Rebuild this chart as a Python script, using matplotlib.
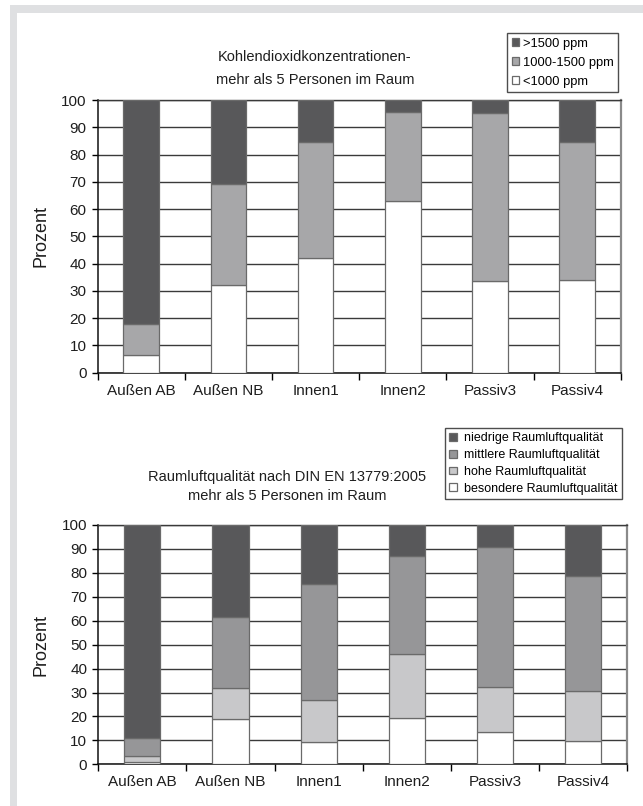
import matplotlib
matplotlib.use("Agg")
import matplotlib.pyplot as plt
import matplotlib.patches as patches
import numpy as np

plt.rcParams['font.family'] = ['Liberation Sans', 'DejaVu Sans']

categories = ["Außen AB", "Außen NB", "Innen1", "Innen2", "Passiv3", "Passiv4"]

# top chart: CO2 concentration shares (percent)
co2_low = [6.5, 32.2, 41.9, 63.0, 33.6, 34.0]
co2_mid = [11.4, 36.9, 42.8, 32.7, 61.5, 50.5]
co2_high = [82.1, 30.9, 15.3, 4.3, 4.9, 15.5]
co2_labels = ["<1000 ppm", "1000-1500 ppm", ">1500 ppm"]

# bottom chart: indoor air quality classes (percent)
iaq_special = [1.1, 18.8, 9.2, 19.2, 13.6, 9.7]
iaq_high = [2.4, 13.0, 17.7, 26.8, 18.7, 20.9]
iaq_mid = [7.4, 29.9, 48.3, 41.2, 58.7, 48.0]
iaq_low = [89.1, 38.3, 24.8, 12.8, 9.0, 21.4]
iaq_labels = ["besondere Raumluftqualität", "hohe Raumluftqualität",
              "mittlere Raumluftqualität", "niedrige Raumluftqualität"]

STYLE = {
    'text': '#1e1e1e',
    'grid': '#3a3a3a',
    'edge': '#6a6a6a',
    'frame': '#dfe0e2',
}

W, H = 643, 806
fig = plt.figure(figsize=(W / 100, H / 100), dpi=100)
fig.patch.set_facecolor('white')

# light gray frame at top and left
fig.add_artist(patches.Rectangle((10 / W, 0), 7 / W, 1 - 5 / H, transform=fig.transFigure,
                                 facecolor=STYLE['frame'], edgecolor='none'))
fig.add_artist(patches.Rectangle((10 / W, 1 - 13 / H), 1, 8 / H, transform=fig.transFigure,
                                 facecolor=STYLE['frame'], edgecolor='none'))


def px_axes(l, t, r, b):
    return fig.add_axes([l / W, 1 - b / H, (r - l) / W, (b - t) / H])


def style_axes(ax):
    x = np.arange(len(categories))
    ax.set_xlim(-0.5, len(categories) - 0.5)
    ax.set_ylim(0, 100)
    ax.set_yticks(np.arange(0, 101, 10))
    ax.yaxis.grid(True, color=STYLE['grid'], lw=1.0, zorder=0)
    ax.set_axisbelow(True)
    ax.set_xticks(np.arange(-0.5, len(categories), 1))
    ax.set_xticklabels([])
    ax.set_xticks(x, minor=True)
    ax.set_xticklabels(categories, minor=True)
    ax.tick_params(axis='x', which='major', length=5, width=1, direction='out')
    ax.tick_params(axis='x', which='minor', length=0, pad=8, labelsize=11,
                   labelcolor=STYLE['text'])
    ax.tick_params(axis='y', length=4, width=1, pad=4, labelsize=11,
                   labelcolor=STYLE['text'])
    for s in ['left', 'bottom']:
        ax.spines[s].set_color('#111111')
        ax.spines[s].set_linewidth(1.1)
    ax.spines['right'].set_color('#8a8a8a')
    ax.spines['right'].set_linewidth(1.6)
    ax.spines['top'].set_color(STYLE['grid'])
    ax.spines['top'].set_linewidth(1.0)


def stacked(ax, series, colors, labels):
    x = np.arange(len(categories))
    bottom = np.zeros(len(categories))
    handles = []
    for vals, c, lab in zip(series, colors, labels):
        h = ax.bar(x, vals, 0.41, bottom=bottom, color=c, edgecolor=STYLE['edge'],
                   linewidth=0.9, label=lab, zorder=3)
        handles.append(h)
        bottom = bottom + np.array(vals)
    return handles


# --- top chart ---
ax1 = px_axes(97.7, 100, 620.7, 372.7)
style_axes(ax1)
h1 = stacked(ax1, [co2_low, co2_mid, co2_high], ['#ffffff', '#a7a7a9', '#58585a'], co2_labels)
fig.text(315 / W, 1 - 57 / H, "Kohlendioxidkonzentrationen-", ha='center', va='center',
         fontsize=10.5, color=STYLE['text'])
fig.text(315 / W, 1 - 80 / H, "mehr als 5 Personen im Raum", ha='center', va='center',
         fontsize=10.5, color=STYLE['text'])
fig.text(41 / W, 1 - 236 / H, "Prozent", rotation=90, ha='center', va='center',
         fontsize=13, color=STYLE['text'])
leg1 = fig.legend(h1[::-1], co2_labels[::-1], loc='upper left',
                  bbox_to_anchor=(507 / W, 1 - 33 / H), fontsize=9.3, frameon=True,
                  fancybox=False, edgecolor='#222222', handlelength=0.6, handleheight=0.6,
                  handletextpad=0.3, labelspacing=0.55, borderpad=0.35, borderaxespad=0)
leg1.get_frame().set_linewidth(1.0)

# --- bottom chart ---
ax2 = px_axes(98.3, 525, 627.3, 764.3)
style_axes(ax2)
h2 = stacked(ax2, [iaq_special, iaq_high, iaq_mid, iaq_low],
             ['#ffffff', '#c8c8ca', '#969698', '#58585a'], iaq_labels)
fig.text(287 / W, 1 - 477 / H, "Raumluftqualität nach DIN EN 13779:2005", ha='center',
         va='center', fontsize=10.5, color=STYLE['text'])
fig.text(287 / W, 1 - 496 / H, "mehr als 5 Personen im Raum", ha='center', va='center',
         fontsize=10.5, color=STYLE['text'])
fig.text(41 / W, 1 - 645 / H, "Prozent", rotation=90, ha='center', va='center',
         fontsize=13, color=STYLE['text'])
leg2 = fig.legend(h2[::-1], iaq_labels[::-1], loc='upper left',
                  bbox_to_anchor=(445 / W, 1 - 428 / H), fontsize=9, frameon=True,
                  fancybox=False, edgecolor='#222222', handlelength=0.6, handleheight=0.6,
                  handletextpad=0.6, labelspacing=0.38, borderpad=0.35, borderaxespad=0)
leg2.get_frame().set_linewidth(1.0)

fig.savefig("out.png", dpi=100)
